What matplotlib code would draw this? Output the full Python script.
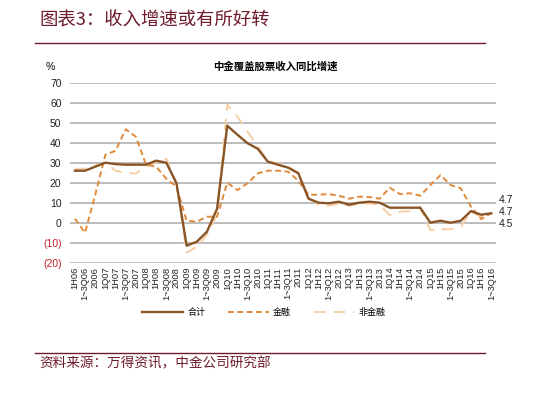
import matplotlib
matplotlib.use("Agg")
import matplotlib.pyplot as plt
from matplotlib.lines import Line2D

plt.rcParams['font.family'] = ['Liberation Sans', 'Noto Sans CJK SC']
CJK = ['Noto Sans CJK SC', 'DejaVu Sans']

periods = ['1H06', '1~3Q06', '2006', '1Q07', '1H07', '1~3Q07', '2007',
           '1Q08', '1H08', '1~3Q08', '2008', '1Q09', '1H09', '1~3Q09', '2009',
           '1Q10', '1H10', '1~3Q10', '2010', '1Q11', '1H11', '1~3Q11', '2011',
           '1Q12', '1H12', '1~3Q12', '2012', '1Q13', '1H13', '1~3Q13', '2013',
           '1Q14', '1H14', '1~3Q14', '2014', '1Q15', '1H15', '1~3Q15', '2015',
           '1Q16', '1H16', '1~3Q16']

total = [26, 26, 28, 30, 29.3, 29, 29, 29, 31, 30,
         19.7, -11.5, -9.5, -4.5, 7, 48.5, 44, 39.7, 37, 30.5,
         29, 27.5, 24.7, 12, 10, 9.7, 10.5, 9, 10, 10.5,
         10, 7.5, 7.5, 7.5, 7.5, 0, 1, 0, 1, 5.8, 4, 4.7]
finance = [2, -5, 14, 34, 36, 46.7, 43, 29, 28, 22,
           18, 1, 0.5, 3, 3, 20, 16.3, 19.7, 24.7, 26,
           26, 25.5, 21, 14, 14, 14.3, 13.5, 12, 13, 12.8,
           12, 17.5, 14.3, 14.7, 13.5, 18.8, 23.8, 18.8, 17.2, 8, 1.8, 4.7]
nonfin = [27, 27, 28.5, 30, 26, 25, 24.5, 28, 30, 32,
          20, -15, -12, -6, 4, 59, 53, 45.5, 38, 31,
          29.5, 28, 25, 12.5, 9, 8.5, 9.5, 8.5, 9.5, 9.5,
          9, 3.8, 5.5, 5.8, 7.5, -3.7, -3.2, -3.3, -2, 5.5, 3, 4.5]

end_labels = ['4.7', '4.7', '4.5']
end_label_y = [11.3, 5.5, -0.8]

yticks = [-20, -10, 0, 10, 20, 30, 40, 50, 60, 70]
ytick_labels = ['(20)', '(10)', '0', '10', '20', '30', '40', '50', '60', '70']

maroon = '#6e1c2c'
c_total = '#8a5526'
c_fin = '#e08a3c'
c_non = '#f6cfa6'

fig = plt.figure(figsize=(5.5, 3.97), dpi=100)
ax = fig.add_axes([0.127, 0.3383, 0.7755, 0.4534])

x = list(range(len(periods)))
ax.plot(x, nonfin, color=c_non, lw=1.4, ls=(0, (6, 4)), zorder=3)
ax.plot(x, finance, color=c_fin, lw=1.4, ls=(0, (3, 1.8)), zorder=4)
ax.plot(x, total, color=c_total, lw=1.7, zorder=5)

ax.set_xlim(-0.5, len(periods) - 0.5)
ax.set_ylim(-20, 70)
ax.set_yticks(yticks)
ax.set_yticklabels(ytick_labels, fontsize=7.5)
for lab, v in zip(ax.get_yticklabels(), yticks):
    lab.set_color('#c0202a' if v < 0 else '#222222')
ax.set_xticks(x)
ax.set_xticklabels(periods, rotation=90, fontsize=6.7, color='#222222')
ax.tick_params(length=0, pad=6)
ax.tick_params(axis='x', pad=3)
ax.grid(axis='y', color='#b8b8b8', lw=1.3)
ax.set_axisbelow(True)
for s in ax.spines.values():
    s.set_visible(False)

for txt, yy in zip(end_labels, end_label_y):
    ax.text(len(periods) - 0.3, yy, txt, fontsize=7.5, va='center', ha='left',
            color='#222222', clip_on=False)

fig.text(0.083, 0.831, '%', fontsize=7.5, ha='left', va='center')
fig.text(0.5, 0.832, '中金覆盖股票收入同比增速', family=CJK, fontsize=7.5,
         fontweight='bold', ha='center', va='center')

fig.text(0.072, 0.949, '图表3：收入增速或有所好转', family=CJK, fontsize=13.2,
         style='italic', color=maroon, ha='left', va='center')
fig.add_artist(Line2D([0.064, 0.882], [0.892, 0.892], color=maroon, lw=1.0))
fig.add_artist(Line2D([0.064, 0.882], [0.111, 0.111], color=maroon, lw=1.0))
fig.text(0.072, 0.085, '资料来源：万得资讯，中金公司研究部', family=CJK, fontsize=9.8,
         style='italic', color=maroon, ha='left', va='center')

handles = [Line2D([], [], color=c_total, lw=1.7),
           Line2D([], [], color=c_fin, lw=1.4, ls=(0, (3, 1.8))),
           Line2D([], [], color=c_non, lw=1.4, ls=(0, (6, 4)))]
fig.legend(handles, ['合计', '金融', '非金融'], loc='center',
           bbox_to_anchor=(0.48, 0.212), ncol=3, frameon=False,
           prop={'family': CJK, 'size': 6.5}, handlelength=4.5,
           columnspacing=2.5, handletextpad=0.5)

fig.savefig('out.png', dpi=100, facecolor='white')
